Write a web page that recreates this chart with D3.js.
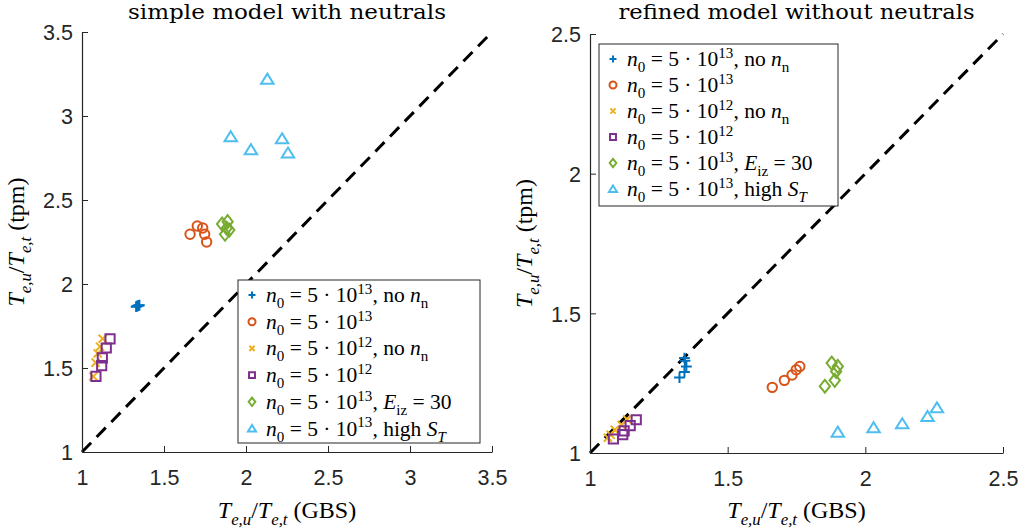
<!DOCTYPE html>
<html><head><meta charset="utf-8">
<script src="https://cdn.jsdelivr.net/npm/d3@7"></script>
<style>
html,body{margin:0;padding:0;background:#fff;}
svg{display:block;}
</style></head>
<body>
<svg id="chart" width="1019" height="529"></svg>
<script>
// ---------------- data ----------------
const seriesNames = ["n0=5e13, no nn", "n0=5e13", "n0=5e12, no nn", "n0=5e12", "n0=5e13, Eiz=30", "n0=5e13, high ST"];
const seriesColors = ["#0072BD", "#D95319", "#EDB120", "#7E2F8E", "#77AC30", "#4DBEEE"];
const seriesMarkers = ["plus", "circle", "cross", "square", "diamond", "triangle"];

const leftTitle = "simple model with neutrals";
const rightTitle = "refined model without neutrals";
const leftTicks = [1, 1.5, 2, 2.5, 3, 3.5];
const leftTickLabels = ["1", "1.5", "2", "2.5", "3", "3.5"];
const rightTicks = [1, 1.5, 2, 2.5];
const rightTickLabels = ["1", "1.5", "2", "2.5"];

// simple model with neutrals (GBS x, tpm y)
const simplePlusX = [1.33, 1.335, 1.34, 1.345, 1.35];
const simplePlusY = [1.865, 1.868, 1.87, 1.872, 1.874];
const simpleCircleX = [1.659, 1.703, 1.736, 1.748, 1.76];
const simpleCircleY = [2.296, 2.345, 2.333, 2.296, 2.25];
const simpleCrossX = [1.069, 1.083, 1.096, 1.11, 1.126];
const simpleCrossY = [1.45, 1.532, 1.587, 1.627, 1.674];
const simpleSquareX = [1.085, 1.12, 1.124, 1.148, 1.171];
const simpleSquareY = [1.45, 1.514, 1.56, 1.619, 1.673];
const simpleDiamondX = [1.854, 1.888, 1.898, 1.872, 1.882];
const simpleDiamondY = [2.357, 2.371, 2.321, 2.296, 2.332];
const simpleTriangleX = [2.13, 1.907, 2.03, 2.22, 2.256];
const simpleTriangleY = [3.22, 2.877, 2.80, 2.865, 2.78];

// refined model without neutrals
const refinedPlusX = [1.325, 1.343, 1.35, 1.345, 1.343];
const refinedPlusY = [1.27, 1.29, 1.31, 1.33, 1.34];
const refinedCircleX = [1.662, 1.706, 1.734, 1.749, 1.762];
const refinedCircleY = [1.235, 1.26, 1.279, 1.298, 1.31];
const refinedCrossX = [1.065, 1.075, 1.09, 1.115, 1.135];
const refinedCrossY = [1.055, 1.065, 1.083, 1.1, 1.12];
const refinedSquareX = [1.085, 1.119, 1.124, 1.146, 1.168];
const refinedSquareY = [1.05, 1.066, 1.079, 1.098, 1.119];
const refinedDiamondX = [1.853, 1.889, 1.878, 1.894, 1.9];
const refinedDiamondY = [1.239, 1.26, 1.322, 1.292, 1.31];
const refinedTriangleX = [1.9, 2.03, 2.134, 2.226, 2.26];
const refinedTriangleY = [1.075, 1.091, 1.105, 1.131, 1.162];

const simpleSeries = [
  [simplePlusX, simplePlusY], [simpleCircleX, simpleCircleY], [simpleCrossX, simpleCrossY],
  [simpleSquareX, simpleSquareY], [simpleDiamondX, simpleDiamondY], [simpleTriangleX, simpleTriangleY]
];
const refinedSeries = [
  [refinedPlusX, refinedPlusY], [refinedCircleX, refinedCircleY], [refinedCrossX, refinedCrossY],
  [refinedSquareX, refinedSquareY], [refinedDiamondX, refinedDiamondY], [refinedTriangleX, refinedTriangleY]
];

// legend labels as math parts
const legendParts = [
  [{t:"n",i:1},{t:"0",sub:1},{t:" = 5 · 10"},{t:"13",sup:1},{t:", no "},{t:"n",i:1},{t:"n",sub:1}],
  [{t:"n",i:1},{t:"0",sub:1},{t:" = 5 · 10"},{t:"13",sup:1}],
  [{t:"n",i:1},{t:"0",sub:1},{t:" = 5 · 10"},{t:"12",sup:1},{t:", no "},{t:"n",i:1},{t:"n",sub:1}],
  [{t:"n",i:1},{t:"0",sub:1},{t:" = 5 · 10"},{t:"12",sup:1}],
  [{t:"n",i:1},{t:"0",sub:1},{t:" = 5 · 10"},{t:"13",sup:1},{t:", "},{t:"E",i:1},{t:"iz",sub:1},{t:" = 30"}],
  [{t:"n",i:1},{t:"0",sub:1},{t:" = 5 · 10"},{t:"13",sup:1},{t:", high "},{t:"S",i:1},{t:"T",sub:1,i:1}]
];
const yLabelParts = [{t:"T",i:1},{t:"e,u",sub:1,i:1},{t:"/"},{t:"T",i:1},{t:"e,t",sub:1,i:1},{t:" (tpm)"}];
const xLabelParts = [{t:"T",i:1},{t:"e,u",sub:1,i:1},{t:"/"},{t:"T",i:1},{t:"e,t",sub:1,i:1},{t:" (GBS)"}];

// ---------------- drawing ----------------
const svg = d3.select("#chart");
const SERIF = "'Liberation Serif', 'Times New Roman', serif";
const TITLE_SERIF = "'DejaVu Serif', 'Liberation Serif', serif";
const SANS = "'Liberation Sans', Arial, Helvetica, sans-serif";
const AXC = "#262626";

function mathText(g, parts, size) {
  const text = g.append("text").attr("font-family", SERIF).attr("font-size", size).attr("fill", "#000");
  let off = 0;
  parts.forEach(p => {
    let target = 0, fs = size;
    if (p.sub) { target = size * 0.28; fs = size * 0.7; }
    if (p.sup) { target = -size * 0.38; fs = size * 0.7; }
    const ts = text.append("tspan").text(p.t).attr("font-size", fs)
      .attr("font-style", p.i ? "italic" : "normal");
    if (target !== off) { ts.attr("dy", target - off); off = target; }
  });
  return text;
}

function markerPath(type, s) {
  switch (type) {
    case "plus": return `M${-s},0H${s}M0,${-s}V${s}`;
    case "cross": { const a = s * 0.75; return `M${-a},${-a}L${a},${a}M${-a},${a}L${a},${-a}`; }
    case "circle": return `M${s},0A${s},${s} 0 1,1 ${-s},0A${s},${s} 0 1,1 ${s},0Z`;
    case "square": { const a = s * 0.85; return `M${-a},${-a}H${a}V${a}H${-a}Z`; }
    case "diamond": { const a = s * 1.2, b = s * 0.95; return `M0,${-a}L${b},0L0,${a}L${-b},0Z`; }
    case "triangle": { const w = s * 1.15, h = s * 1.0; return `M0,${-h}L${w},${h*0.85}L${-w},${h*0.85}Z`; }
  }
}

function panel(opts) {
  const { x0, x1, y0, y1, domain, ticks, tickLabels, series, title, titleW, legend } = opts;
  const x = d3.scaleLinear().domain(domain).range([x0, x1]);
  const y = d3.scaleLinear().domain(domain).range([y0, y1]);
  const g = svg.append("g");

  g.append("line")
    .attr("x1", x(domain[0])).attr("y1", y(domain[0]))
    .attr("x2", x(domain[1])).attr("y2", y(domain[1]))
    .attr("stroke", "#000").attr("stroke-width", 3).attr("stroke-dasharray", "13,8");

  const xAxis = d3.axisBottom(x).tickValues(ticks).tickFormat((d, i) => tickLabels[i])
    .tickSizeInner(-6).tickSizeOuter(0).tickPadding(18);
  const yAxis = d3.axisLeft(y).tickValues(ticks).tickFormat((d, i) => tickLabels[i])
    .tickSizeInner(-6).tickSizeOuter(0).tickPadding(9);
  const gx = g.append("g").attr("transform", `translate(0,${y0})`).call(xAxis);
  const gy = g.append("g").attr("transform", `translate(${x0},0)`).call(yAxis);
  [gx, gy].forEach(a => {
    a.select(".domain").attr("stroke", AXC).attr("stroke-width", 1.2);
    a.selectAll(".tick line").attr("stroke", AXC).attr("stroke-width", 1);
    a.selectAll(".tick text").attr("font-family", SANS).attr("font-size", 21.5).attr("fill", AXC);
  });
  gy.selectAll(".tick text").attr("dy", "0.36em");

  series.forEach((s, k) => {
    const pts = s[0].map((v, i) => [v, s[1][i]]);
    g.append("g").selectAll("path").data(pts).join("path")
      .attr("transform", d => `translate(${x(d[0])},${y(d[1])})`)
      .attr("d", markerPath(seriesMarkers[k], seriesMarkers[k] === "circle" ? 4.7 : 5.4))
      .attr("fill", "none").attr("stroke", seriesColors[k]).attr("stroke-width", 2);
  });

  g.append("text").attr("x", (x0 + x1) / 2).attr("y", 19).attr("text-anchor", "middle")
    .attr("font-family", TITLE_SERIF).attr("font-size", 20).attr("fill", "#000")
    .attr("textLength", titleW).attr("lengthAdjust", "spacingAndGlyphs").text(title);

  const xl = mathText(g, xLabelParts, 24);
  xl.attr("x", (x0 + x1) / 2).attr("y", 518).attr("text-anchor", "middle");
  const yl = mathText(g.append("g").attr("transform", `translate(${x0 - 58},${(y0 + y1) / 2}) rotate(-90)`), yLabelParts, 24);
  yl.attr("x", 0).attr("y", 0).attr("text-anchor", "middle");

  const L = legend;
  const lg = g.append("g");
  lg.append("rect").attr("x", L.x).attr("y", L.y).attr("width", L.w).attr("height", L.h)
    .attr("fill", "#fff").attr("stroke", AXC).attr("stroke-width", 1);
  legendParts.forEach((parts, k) => {
    const cy = L.y + 15 + k * L.row;
    lg.append("path").attr("transform", `translate(${L.x + 14},${cy})`)
      .attr("d", markerPath(seriesMarkers[k], 3.5))
      .attr("fill", "none").attr("stroke", seriesColors[k]).attr("stroke-width", 2);
    const t = mathText(lg, parts, 21.5);
    t.attr("x", L.x + 28).attr("y", cy + 7);
  });
}

panel({ x0: 82, x1: 492, y0: 452, y1: 32, domain: [1, 3.5], ticks: leftTicks, tickLabels: leftTickLabels,
  series: simpleSeries, title: leftTitle, titleW: 318, legend: { x: 238, y: 280, w: 242, h: 163, row: 26.7 } });
panel({ x0: 590, x1: 1003, y0: 453, y1: 34, domain: [1, 2.5], ticks: rightTicks, tickLabels: rightTickLabels,
  series: refinedSeries, title: rightTitle, titleW: 356, legend: { x: 599, y: 44, w: 239, h: 162, row: 26 } });
</script>
</body></html>
